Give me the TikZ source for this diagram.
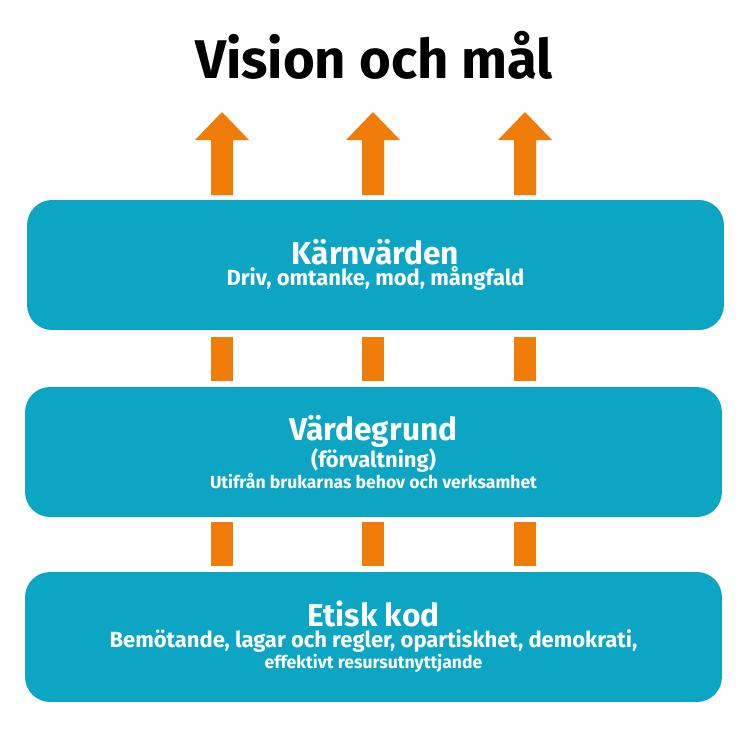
\documentclass[tikz,border=0pt]{standalone}
\usepackage{fontspec}
\setmainfont{Fira Sans}
\usetikzlibrary{positioning}
\definecolor{tealbox}{RGB}{12,166,196}
\definecolor{arroworange}{RGB}{240,125,10}
\newcommand{\headsize}{\fontsize{18}{24}\selectfont}
\newcommand{\subsize}{\fontsize{12.5}{16}\selectfont}
\tikzset{
  layerbox/.style={fill=tealbox, rounded corners=0.5cm, minimum width=13.94cm, minimum height=2.6cm, text=white, align=center, font=\bfseries},
  link/.style={fill=arroworange}
}
\begin{document}
\begin{tikzpicture}[x=0.02cm, y=-0.02cm]
        \useasboundingbox (0,0) rectangle (747,747);

        % Title
        \node[font=\fontsize{31}{36}\selectfont\bfseries] (title) at (374,55) {Vision och mål};

        % The three layers
        \node[layerbox] (core) at (375.5,265) {\headsize Kärnvärden\\\subsize Driv, omtanke, mod, mångfald};
        \node[layerbox] (base) at (373.5,452) {\headsize Värdegrund\\\subsize (förvaltning)\\Utifrån brukarnas behov och verksamhet};
        \node[layerbox] (code) at (373.5,637) {\headsize Etisk kod\\\subsize Bemötande, lagar och regler, opartiskhet, demokrati,\\effektivt resursutnyttjande};

        % Orange links and arrows
        \foreach \x in {222,373,525} {
            \fill[link] (\x-11,337) rectangle (\x+11,381); % core to base
            \fill[link] (\x-11,522) rectangle (\x+11,566); % base to code
            \fill[link] (\x-11,195) -- (\x-11,140) -- (\x-27,140) -- (\x,112)
                -- (\x+27,140) -- (\x+11,140) -- (\x+11,195) -- cycle; % up arrow
        }
\end{tikzpicture}
\end{document}
